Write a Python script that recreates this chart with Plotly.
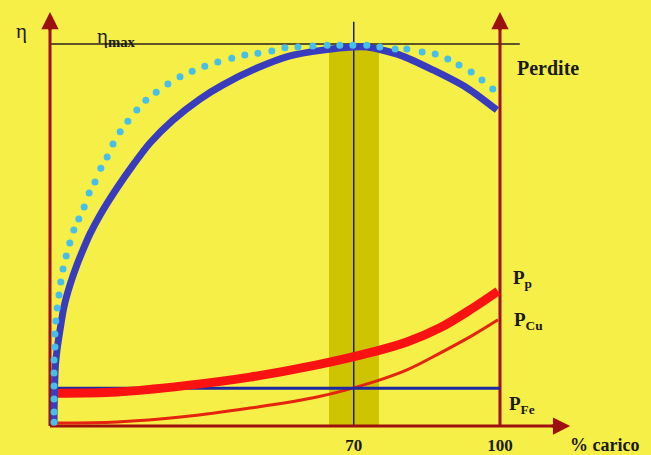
import plotly.graph_objects as go

# ---------------- data ----------------
# efficiency curve (eta), load in % vs relative efficiency (eta_max = 100)
eta_load = [0.89, 1.0, 1.22, 1.56, 2.22, 3.11, 4.44, 6.0, 7.33, 8.89, 11.11, 14.89, 18.44,
            22.22, 27.33, 33.33, 38.44, 46.0, 53.33, 60.67, 67.33, 70.44, 77.78, 85.11,
            92.67, 99.33]
eta_values = [0.5, 9.4, 16.0, 19.9, 25.1, 31.2, 36.9, 42.2, 46.1, 50.3, 55.2, 62.3, 68.3,
              74.1, 80.1, 85.6, 89.3, 93.7, 96.9, 98.4, 99.2, 99.2, 97.1, 93.2,
              88.5, 82.7]

# dotted curve (light blue dots)
dot_load = [0.9, 0.9, 0.9, 0.9, 0.9, 0.9, 1.1, 1.1, 1.3, 1.6, 2.0, 2.4, 2.9, 3.6, 4.4,
            5.3, 6.4, 7.6, 8.7, 10.0, 11.3, 12.7, 14.0, 15.6, 17.3, 19.3, 21.3, 23.6,
            26.2, 28.9, 31.6, 34.4, 37.3, 40.4, 43.3, 46.2, 49.3, 52.2, 55.1, 58.4,
            61.6, 64.4, 67.3, 70.4, 73.3, 76.7, 79.3, 82.7, 85.6, 88.4, 90.9, 93.6,
            96.0, 98.4]
dot_values = [1.0, 3.7, 7.1, 10.5, 13.9, 17.3, 20.7, 24.1, 27.5, 30.9, 34.3, 37.7, 41.1,
              44.5, 47.9, 51.3, 54.2, 57.3, 61.0, 63.9, 67.5, 70.4, 73.8, 77.0, 79.8,
              82.7, 85.3, 87.4, 89.5, 91.4, 92.9, 94.2, 95.3, 96.3, 97.1, 97.6, 98.2,
              99.0, 99.2, 99.5, 99.7, 99.7, 99.7, 99.7, 99.2, 98.7, 98.7, 97.9, 97.4,
              96.1, 94.5, 92.7, 90.6, 88.2]

# losses
loss_load = [1.56, 14.89, 29.56, 44.44, 59.33, 71.78, 79.33, 86.67, 94.0, 99.56]
pp_values = [8.6, 8.9, 10.5, 12.8, 16.0, 19.4, 22.0, 25.7, 30.9, 35.3]
pcu_values = [0.8, 1.05, 2.4, 4.7, 7.6, 11.5, 14.7, 19.1, 23.8, 27.8]
pfe_load = [1.6, 100.0]
pfe_values = [9.9, 9.9]

eta_max = 100
tick_positions = [67.5, 100]
tick_labels = ["70", "100"]
band_range = [62.0, 73.1]

# ---------------- styling ----------------
BG = "#F6EF48"
AXIS = "#9E1010"
SERIF = "Liberation Serif, Times New Roman, serif"
TXT = "#1a1a14"

fig = go.Figure()

fig.add_trace(go.Scatter(x=loss_load, y=pcu_values, mode="lines",
                         line=dict(color="#E4240E", width=3, shape="spline"),
                         hoverinfo="skip", showlegend=False))
fig.add_trace(go.Scatter(x=pfe_load, y=pfe_values, mode="lines",
                         line=dict(color="#1E2AA0", width=3),
                         hoverinfo="skip", showlegend=False))
fig.add_trace(go.Scatter(x=loss_load, y=pp_values, mode="lines",
                         line=dict(color="#FA1212", width=9, shape="spline"),
                         hoverinfo="skip", showlegend=False))
fig.add_trace(go.Scatter(x=eta_load, y=eta_values, mode="lines",
                         line=dict(color="#3A3CBE", width=7, shape="spline", smoothing=0.8),
                         hoverinfo="skip", showlegend=False))
fig.add_trace(go.Scatter(x=dot_load, y=dot_values, mode="markers",
                         marker=dict(color="#46BFEA", size=7, line=dict(width=0)),
                         cliponaxis=False, hoverinfo="skip", showlegend=False))

shapes = [
    # olive band around the optimum
    dict(type="rect", xref="x", yref="y", x0=band_range[0], x1=band_range[1],
         y0=0, y1=99.2, fillcolor="#CEC500", line=dict(width=0), layer="below"),
    # vertical line at optimum
    dict(type="line", xref="x", yref="y", x0=tick_positions[0], x1=tick_positions[0],
         y0=0, y1=105.8, line=dict(color="#1E1E78", width=1.5), layer="below"),
    # eta_max line
    dict(type="line", xref="x", yref="y", x0=0, x1=104.4, y0=eta_max, y1=eta_max,
         line=dict(color="#2A2218", width=1.5), layer="below"),
    # axes
    dict(type="line", xref="x", yref="y", x0=0, x1=0, y0=0, y1=104,
         line=dict(color=AXIS, width=3), layer="below"),
    dict(type="line", xref="x", yref="y", x0=100, x1=100, y0=0, y1=104,
         line=dict(color=AXIS, width=3), layer="below"),
    dict(type="line", xref="x", yref="y", x0=0, x1=112, y0=0, y1=0,
         line=dict(color=AXIS, width=3), layer="below"),
]

annotations = [
    # arrow heads
    dict(x=0, y=108.4, xref="x", yref="y", text="", showarrow=True, ax=0, ay=20,
         arrowhead=2, arrowsize=1.15, arrowwidth=3, arrowcolor=AXIS, standoff=0),
    dict(x=100, y=108.4, xref="x", yref="y", text="", showarrow=True, ax=0, ay=20,
         arrowhead=2, arrowsize=1.15, arrowwidth=3, arrowcolor=AXIS, standoff=0),
    dict(x=115.6, y=0, xref="x", yref="y", text="", showarrow=True, ax=-20, ay=0,
         arrowhead=2, arrowsize=1.15, arrowwidth=3, arrowcolor=AXIS, standoff=0),
    # texts
    dict(x=-6.4, y=103.4, xref="x", yref="y", text="η", showarrow=False,
         font=dict(family=SERIF, size=21, color=TXT)),
    dict(x=10.0, y=101.8, xref="x", yref="y", text="η<sub><b>max</b></sub>", showarrow=False,
         xanchor="left", font=dict(family=SERIF, size=21, color=TXT)),
    dict(x=110.7, y=93.7, xref="x", yref="y", text="<b>Perdite</b>", showarrow=False,
         font=dict(family=SERIF, size=20, color=TXT)),
    dict(x=102.5, y=38.6, xref="x", yref="y", text="<b>P<sub>p</sub></b>", showarrow=False,
         xanchor="left", font=dict(family=SERIF, size=19, color=TXT)),
    dict(x=102.7, y=27.6, xref="x", yref="y", text="<b>P<sub>Cu</sub></b>", showarrow=False,
         xanchor="left", font=dict(family=SERIF, size=19, color=TXT)),
    dict(x=101.6, y=5.4, xref="x", yref="y", text="<b>P<sub>Fe</sub></b>", showarrow=False,
         xanchor="left", font=dict(family=SERIF, size=19, color=TXT)),
    dict(x=123.3, y=-0.027, xref="x", yref="paper", text="<b>% carico</b>", showarrow=False,
         yanchor="middle", font=dict(family=SERIF, size=18, color=TXT)),
]

fig.update_layout(
    width=651, height=455,
    margin=dict(l=0, r=0, t=0, b=22, pad=0),
    paper_bgcolor=BG, plot_bgcolor=BG,
    showlegend=False,
    shapes=shapes, annotations=annotations,
    xaxis=dict(range=[-11.11, 133.56], showgrid=False, zeroline=False, showline=False,
               tickvals=tick_positions, ticktext=tick_labels, ticks="",
               tickfont=dict(family=SERIF, size=17, color=TXT, weight="bold"),
               automargin=False, fixedrange=True),
    yaxis=dict(range=[-1.83, 111.52], showgrid=False, zeroline=False, showline=False,
               showticklabels=False, ticks="", fixedrange=True),
)

fig.write_html("out.html", config={"displayModeBar": False},
               post_script="document.body.style.margin='0';document.body.style.padding='0';"
                           "document.body.style.background='" + BG + "';")
